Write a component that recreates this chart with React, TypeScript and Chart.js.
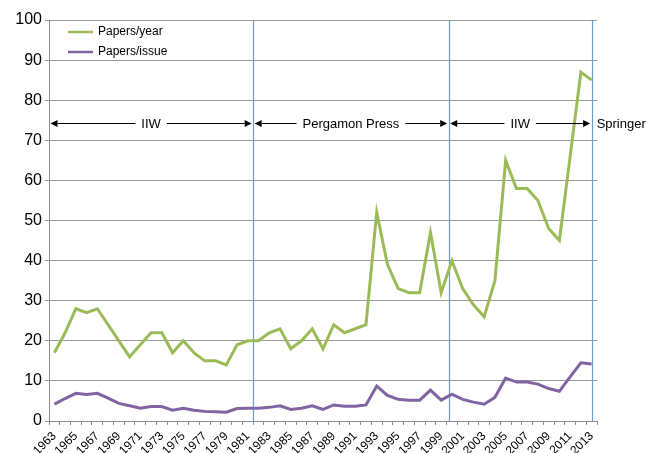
import React, { useEffect, useRef } from 'react';
import { Chart, registerables } from 'chart.js';

Chart.register(...registerables);

const years = [
  '1963', '1964', '1965', '1966', '1967', '1968', '1969', '1970', '1971', '1972',
  '1973', '1974', '1975', '1976', '1977', '1978', '1979', '1980', '1981', '1982',
  '1983', '1984', '1985', '1986', '1987', '1988', '1989', '1990', '1991', '1992',
  '1993', '1994', '1995', '1996', '1997', '1998', '1999', '2000', '2001', '2002',
  '2003', '2004', '2005', '2006', '2007', '2008', '2009', '2010', '2011', '2012', '2013',
];

const papersPerYear = [
  17, 22, 28, 27, 28, 24, 20, 16, 19, 22,
  22, 17, 20, 17, 15, 15, 14, 19, 20, 20,
  22, 23, 18, 20, 23, 18, 24, 22, 23, 24,
  52, 39, 33, 32, 32, 47, 32, 40, 33, 29,
  26, 35, 65, 58, 58, 55, 48, 45, 66, 87, 85,
];

const papersPerIssue = [
  4.2, 5.6, 6.9, 6.6, 6.9, 5.7, 4.4, 3.8, 3.2, 3.6,
  3.6, 2.7, 3.2, 2.7, 2.4, 2.3, 2.2, 3.1, 3.2, 3.2,
  3.4, 3.8, 2.9, 3.2, 3.8, 2.9, 4.0, 3.7, 3.7, 4.0,
  8.7, 6.4, 5.4, 5.2, 5.2, 7.7, 5.2, 6.7, 5.4, 4.7,
  4.2, 5.9, 10.7, 9.7, 9.7, 9.2, 8.1, 7.4, 11.0, 14.5, 14.2,
];

const seriesNames = ['Papers/year', 'Papers/issue'];

// Publisher periods (boundaries expressed in years, fractional = between points)
const periodLabels = ['IIW', 'Pergamon Press', 'IIW'];
const periodStarts = [1962.5, 1981.5, 1999.7];
const periodEnds = [1981.5, 1999.7, 2013];
const boundaryYears = [1981.5, 1999.7, 2013];
const periodArrowValue = 74.2;
const trailingLabel = 'Springer';

const GREEN = '#9bbb59';
const PURPLE = '#8064a2';
const FONT = '"Liberation Sans", Arial, Helvetica, sans-serif';

const annotPlugin = {
  id: 'annot',
  beforeDatasetsDraw(chart: any) {
    const { ctx, chartArea, scales } = chart;
    const x = scales.x;
    ctx.save();
    ctx.strokeStyle = '#6f9bd3';
    ctx.lineWidth = 1.2;
    boundaryYears.forEach((yr) => {
      const px = Math.round(x.getPixelForValue(yr - 1963)) + 0.5;
      ctx.beginPath();
      ctx.moveTo(px, chartArea.top);
      ctx.lineTo(px, chartArea.bottom);
      ctx.stroke();
    });
    ctx.restore();
  },
  afterDatasetsDraw(chart: any) {
    const { ctx, scales } = chart;
    const x = scales.x;
    const y = scales.y;
    const py = Math.round(y.getPixelForValue(periodArrowValue)) + 0.5;
    ctx.save();
    ctx.font = `13px ${FONT}`;
    ctx.fillStyle = '#000';
    ctx.strokeStyle = '#000';
    ctx.lineWidth = 1;
    ctx.textBaseline = 'middle';
    ctx.textAlign = 'center';
    const head = 7;
    const hw = 3.5;
    const drawHead = (tipX: number, dir: number) => {
      ctx.beginPath();
      ctx.moveTo(tipX, py);
      ctx.lineTo(tipX - dir * head, py - hw);
      ctx.lineTo(tipX - dir * head, py + hw);
      ctx.closePath();
      ctx.fill();
    };
    periodLabels.forEach((lab, i) => {
      const x1 = x.getPixelForValue(periodStarts[i] - 1963) + 1.5;
      const x2 = x.getPixelForValue(periodEnds[i] - 1963) - 1.5;
      const cx = (x1 + x2) / 2;
      const w = ctx.measureText(lab).width;
      ctx.beginPath();
      ctx.moveTo(x1 + head, py);
      ctx.lineTo(cx - w / 2 - 6, py);
      ctx.moveTo(cx + w / 2 + 6, py);
      ctx.lineTo(x2 - head, py);
      ctx.stroke();
      drawHead(x1, -1);
      drawHead(x2, 1);
      ctx.fillText(lab, cx, py + 1);
    });
    ctx.textAlign = 'left';
    ctx.fillText(trailingLabel, x.getPixelForValue(2013 - 1963) + 5, py + 1);

    // legend
    const colors = [GREEN, PURPLE];
    ctx.font = `12px ${FONT}`;
    seriesNames.forEach((name, i) => {
      const ly = 32 + i * 20;
      ctx.strokeStyle = colors[i];
      ctx.lineWidth = 2.5;
      ctx.beginPath();
      ctx.moveTo(68, ly);
      ctx.lineTo(93, ly);
      ctx.stroke();
      ctx.fillStyle = '#000';
      ctx.fillText(name, 98, ly);
    });
    ctx.restore();
  },
};

export default function App() {
  const ref = useRef<HTMLCanvasElement | null>(null);
  useEffect(() => {
    if (!ref.current) return;
    const chart = new Chart(ref.current, {
      type: 'line',
      data: {
        labels: years,
        datasets: [
          {
            label: seriesNames[0],
            data: papersPerYear,
            borderColor: GREEN,
            backgroundColor: GREEN,
            borderWidth: 3,
            pointRadius: 0,
            tension: 0,
          },
          {
            label: seriesNames[1],
            data: papersPerIssue,
            borderColor: PURPLE,
            backgroundColor: PURPLE,
            borderWidth: 3,
            pointRadius: 0,
            tension: 0,
          },
        ],
      },
      options: {
        responsive: false,
        animation: false,
        layout: { padding: { top: 20, right: 60, left: 0, bottom: 0 } },
        plugins: { legend: { display: false }, tooltip: { enabled: false } },
        scales: {
          x: {
            type: 'category',
            offset: true,
            grid: {
              display: true,
              offset: true,
              drawOnChartArea: false,
              drawTicks: true,
              tickLength: 4,
              color: '#8c8c8c',
            },
            border: { display: true, color: '#8c8c8c', width: 1 },
            ticks: {
              autoSkip: false,
              minRotation: 45,
              maxRotation: 45,
              padding: 4,
              color: '#000',
              font: { family: FONT, size: 12 },
              callback: (_v: any, i: number) => (i % 2 === 0 ? years[i] : ''),
            },
            afterFit: (s: any) => {
              s.height = 32;
            },
          },
          y: {
            min: 0,
            max: 100,
            ticks: {
              stepSize: 10,
              padding: 3,
              color: '#000',
              font: { family: FONT, size: 16 },
            },
            grid: { color: '#9a9a9a', tickLength: 4, lineWidth: 1 },
            border: { display: true, color: '#8c8c8c', width: 1 },
            afterFit: (s: any) => {
              s.width = 49;
            },
          },
        },
      },
      plugins: [annotPlugin],
    });
    return () => chart.destroy();
  }, []);
  return (
    <div style={{ position: 'absolute', left: 0, top: 0, width: 657, height: 453 }}>
      <canvas ref={ref} width={657} height={453} />
    </div>
  );
}
